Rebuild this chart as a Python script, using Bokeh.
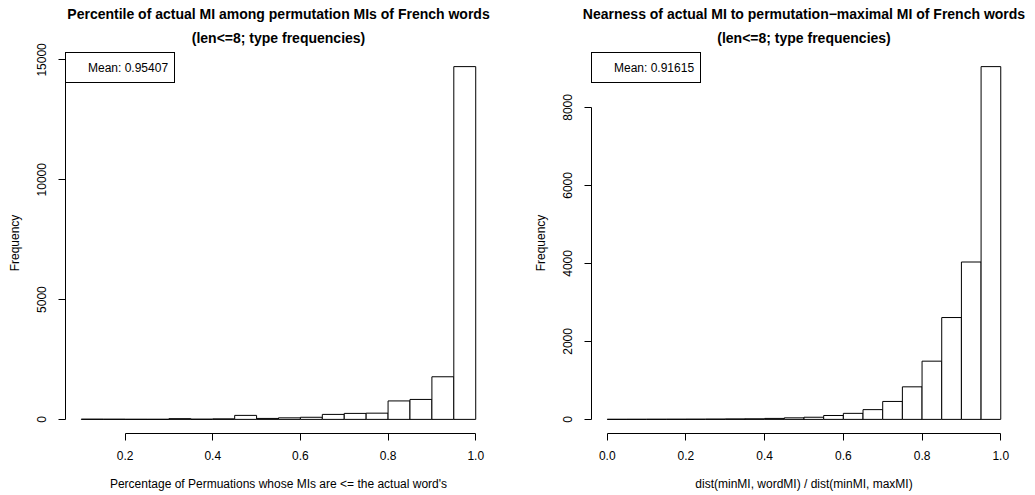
from bokeh.plotting import figure
from bokeh.models import Range1d, FixedTicker, CustomJSTickFormatter, Legend, LegendItem, Title
from bokeh.layouts import row
from bokeh.embed import file_html
from bokeh.resources import INLINE

# ---------------- data ----------------
left_breaks = [0.10, 0.15, 0.20, 0.25, 0.30, 0.35, 0.40, 0.45, 0.50, 0.55,
               0.60, 0.65, 0.70, 0.75, 0.80, 0.85, 0.90, 0.95, 1.00]
left_counts = [10, 8, 5, 4, 30, 10, 22, 167, 40, 65, 88, 208, 250, 260,
               770, 833, 1778, 14720]
left_xticks = [0.2, 0.4, 0.6, 0.8, 1.0]
left_yticks = [0, 5000, 10000, 15000]
left_mean = "Mean: 0.95407"
left_title1 = "Percentile of actual MI among permutation MIs of French words"
left_title2 = "(len<=8; type frequencies)"
left_xlabel = "Percentage of Permuations whose MIs are <= the actual word's"

right_breaks = [0.00, 0.05, 0.10, 0.15, 0.20, 0.25, 0.30, 0.35, 0.40, 0.45, 0.50,
                0.55, 0.60, 0.65, 0.70, 0.75, 0.80, 0.85, 0.90, 0.95, 1.00]
right_counts = [2, 3, 4, 5, 6, 8, 12, 15, 25, 40, 55, 100, 155, 250, 460, 835,
                1493, 2612, 4036, 9047]
right_xticks = [0.0, 0.2, 0.4, 0.6, 0.8, 1.0]
right_yticks = [0, 2000, 4000, 6000, 8000]
right_mean = "Mean: 0.91615"
right_title1 = "Nearness of actual MI to permutation\u2212maximal MI of French words"
right_title2 = "(len<=8; type frequencies)"
right_xlabel = "dist(minMI, wordMI) / dist(minMI, maxMI)"

ylabel = "Frequency"
FONT = "Liberation Sans"


def make_hist(breaks, counts, xticks, yticks, mean_text, t1, t2, xlabel,
              width, b_left, b_right):
    xmin, xmax = breaks[0], breaks[-1]
    dx = (xmax - xmin) * 0.04
    ymax = max(counts)
    dy = ymax * 0.04
    p = figure(width=width, height=495, title=None,
               x_range=Range1d(xmin - dx, xmax + dx),
               y_range=Range1d(-dy, ymax + dy),
               output_backend="svg", toolbar_location=None,
               min_border_left=b_left, min_border_right=b_right,
               min_border_top=52, min_border_bottom=62)
    p.quad(left=breaks[:-1], right=breaks[1:], bottom=0, top=counts,
           fill_color="white", line_color="black", line_width=1)

    p.outline_line_color = None
    p.xgrid.visible = False
    p.ygrid.visible = False
    p.background_fill_color = "white"
    p.border_fill_color = "white"

    for ax in (p.xaxis[0], p.yaxis[0]):
        ax.axis_line_color = "black"
        ax.major_tick_line_color = "black"
        ax.minor_tick_line_color = None
        ax.major_tick_out = 7
        ax.major_tick_in = 0
        ax.major_label_text_font = FONT
        ax.major_label_text_font_size = "12px"
        ax.major_label_text_color = "black"
        ax.axis_label_text_font = FONT
        ax.axis_label_text_font_size = "12px"
        ax.axis_label_text_font_style = "normal"
        ax.axis_label_text_color = "black"

    p.xaxis[0].ticker = FixedTicker(ticks=xticks)
    p.xaxis[0].bounds = (xticks[0], xticks[-1])
    p.xaxis[0].formatter = CustomJSTickFormatter(code="return tick.toFixed(1);")
    p.xaxis[0].axis_label = xlabel
    p.xaxis[0].major_label_standoff = 10
    p.xaxis[0].axis_label_standoff = 14

    p.yaxis[0].ticker = FixedTicker(ticks=yticks)
    p.yaxis[0].bounds = (yticks[0], yticks[-1])
    p.yaxis[0].major_label_orientation = "vertical"
    p.yaxis[0].major_label_standoff = 12
    p.yaxis[0].axis_label = ylabel
    p.yaxis[0].axis_label_standoff = 13

    p.add_layout(Title(text=t2, align="center", text_font=FONT,
                       text_font_size="14px", text_font_style="bold",
                       text_color="black", standoff=13), "above")
    p.add_layout(Title(text=t1, align="center", text_font=FONT,
                       text_font_size="14px", text_font_style="bold",
                       text_color="black", standoff=0), "above")

    dummy = p.scatter(x=[], y=[], alpha=0)
    leg = Legend(items=[LegendItem(label=mean_text, renderers=[dummy])],
                 location="top_left", margin=0, padding=6,
                 glyph_width=11, glyph_height=17, label_height=17,
                 label_standoff=5, spacing=0,
                 label_text_font=FONT, label_text_font_size="12px",
                 label_text_color="black",
                 border_line_color="black", border_line_width=1,
                 border_line_alpha=1.0,
                 background_fill_color="white", background_fill_alpha=1.0)
    p.add_layout(leg)
    return p


p1 = make_hist(left_breaks, left_counts, left_xticks, left_yticks, left_mean,
               left_title1, left_title2, left_xlabel, 517, 65, 26)
p2 = make_hist(right_breaks, right_counts, right_xticks, right_yticks, right_mean,
               right_title1, right_title2, right_xlabel, 518, 74, 19)

layout = row(p1, p2)
open("out.html", "w").write(file_html(layout, INLINE))
